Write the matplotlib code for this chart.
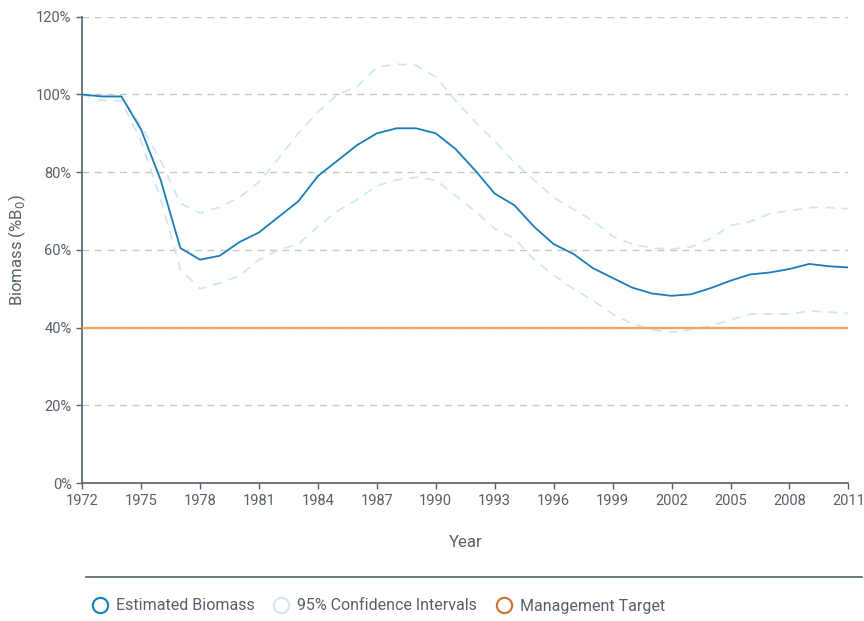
import matplotlib.pyplot as plt
from matplotlib.lines import Line2D
import matplotlib.ticker as mticker

plt.rcParams['font.family'] = ['Roboto', 'DejaVu Sans']

years = list(range(1972, 2012))
biomass = [100, 99.5, 99.5, 91, 78, 60.5, 57.5, 58.5, 62, 64.5,
           68.5, 72.5, 79, 83, 87, 90, 91.3, 91.3, 90, 86,
           80.5, 74.5, 71.5, 66, 61.5, 59, 55.3, 52.8, 50.3, 48.8,
           48.2, 48.6, 50.2, 52.1, 53.7, 54.2, 55.1, 56.4, 55.8, 55.5]
upper_ci = [100, 99.5, 99.5, 92, 83, 72, 69.5, 71, 73.5, 77.5,
            83.5, 90, 95.5, 100, 102, 107, 107.8, 107.5, 104.5, 98.5,
            93, 88, 82.5, 78, 73.5, 70.5, 67.5, 63.5, 61.5, 60.5,
            60.2, 60.8, 63, 66.3, 67.3, 69.3, 70.1, 70.9, 70.9, 70.6]
lower_ci = [100, 98.5, 98.3, 88, 73, 55, 50, 51.5, 53.3, 57.5,
            60, 61.5, 66, 70, 73, 76.5, 78, 78.7, 78, 74,
            70, 65.5, 63, 57.5, 53.5, 50, 47, 43.5, 41, 39.5,
            38.8, 39.5, 40.5, 42, 43.5, 43.5, 43.5, 44.3, 44, 43.7]
target = 40

text_col = '#56606a'
blue = '#1a7dba'
light = '#cfe7f4'
orange = '#f5a463'

fig = plt.figure(figsize=(8.64, 6.21), dpi=100)
ax = fig.add_axes([0.095, 0.222, 0.887, 0.751])

ax.plot(years, upper_ci, color=light, lw=1.3, ls=(0, (5, 4)))
ax.plot(years, lower_ci, color=light, lw=1.3, ls=(0, (5, 4)))
ax.axhline(target, color=orange, lw=1.6, zorder=3)
ax.plot(years, biomass, color=blue, lw=1.3, zorder=4)

ax.set_xlim(1972, 2011)
ax.set_ylim(0, 120)
ax.set_xticks(range(1972, 2012, 3))
ax.set_yticks(range(0, 121, 20))
ax.yaxis.set_major_formatter(mticker.FuncFormatter(lambda v, p: f'{v:.0f}%'))
ax.grid(axis='y', color='#c5c8cb', ls=(0, (5, 4)), lw=1)
ax.set_axisbelow(True)

for s in ['top', 'right']:
    ax.spines[s].set_visible(False)
for s in ['left', 'bottom']:
    ax.spines[s].set_color(text_col)
    ax.spines[s].set_linewidth(1.2)
ax.tick_params(colors=text_col, labelsize=10.5, length=4, width=1)

ax.set_xlabel('Year', color=text_col, fontsize=12, labelpad=20)
ax.set_ylabel('Biomass (%B$_0$)', color=text_col, fontsize=12, labelpad=6)

# separator line above legend
fig.add_artist(Line2D([86 / 864, 862 / 864], [1 - 577 / 621] * 2, color=text_col, lw=1.2))

handles = [
    Line2D([], [], ls='none', marker='o', ms=11, mfc='white', mec=blue, mew=1.5),
    Line2D([], [], ls='none', marker='o', ms=11, mfc='white', mec=light, mew=1.5),
    Line2D([], [], ls='none', marker='o', ms=11, mfc='white', mec='#c9712f', mew=1.5),
]
labels = ['Estimated Biomass', '95% Confidence Intervals', 'Management Target']
fig.legend(handles, labels, loc='center left', bbox_to_anchor=(0.106, 1 - 606 / 621),
           ncol=3, frameon=False, fontsize=11.5, labelcolor=text_col,
           handletextpad=0.5, columnspacing=1.2, borderaxespad=0, borderpad=0,
           handlelength=1.0)

fig.savefig('out.png', dpi=100)
